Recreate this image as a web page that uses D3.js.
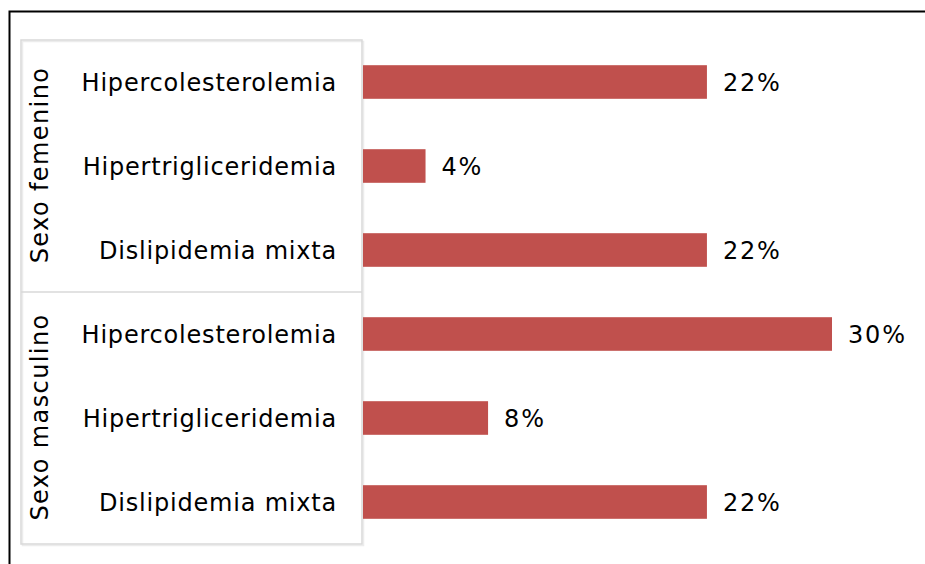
<!DOCTYPE html>
<html>
<head>
<meta charset="utf-8">
<script src="https://cdn.jsdelivr.net/npm/d3@7"></script>
<style>
  body { margin: 0; background: #fff; }
  svg { display: block; font-family: "DejaVu Sans", Verdana, sans-serif; }
</style>
</head>
<body>
<div id="chart"></div>
<script>
const width = 925;
const height = 564;

const groups = ["Sexo femenino", "Sexo masculino"];
const categories = ["Hipercolesterolemia", "Hipertrigliceridemia", "Dislipidemia mixta"];
const femenino = [22, 4, 22];
const masculino = [30, 8, 22];

const rows = [];
groups.forEach((g, gi) => {
    const vals = gi === 0 ? femenino : masculino;
    categories.forEach((c, ci) => rows.push({ group: g, cat: c, value: vals[ci], key: g + "|" + c }));
});

const boxLeft = 21, boxRight = 362, boxTop = 40, boxBottom = 544;

const svg = d3.select("#chart").append("svg")
    .attr("width", width)
    .attr("height", height);

// outer frame
svg.append("rect")
    .attr("x", 9.5).attr("y", 11.5)
    .attr("width", 930).attr("height", 600)
    .attr("fill", "none")
    .attr("stroke", "#000")
    .attr("stroke-width", 2);

const x = d3.scaleLinear().domain([0, 30]).range([boxRight + 1, 832]);
const y = d3.scaleBand().domain(rows.map(d => d.key)).range([boxTop, boxBottom]).paddingInner(0.6).paddingOuter(0.3);

// category box (light shadow + border)
svg.append("rect")
    .attr("x", boxLeft + 1.5).attr("y", boxTop + 1.5)
    .attr("width", boxRight - boxLeft).attr("height", boxBottom - boxTop)
    .attr("fill", "none")
    .attr("stroke", "#ececec")
    .attr("stroke-width", 1.5);
svg.append("rect")
    .attr("x", boxLeft).attr("y", boxTop)
    .attr("width", boxRight - boxLeft).attr("height", boxBottom - boxTop)
    .attr("fill", "none")
    .attr("stroke", "#d9d9d9")
    .attr("stroke-width", 1.5);

const groupY = d3.scaleBand().domain(groups).range([boxTop, boxBottom]);
svg.append("line")
    .attr("x1", boxLeft).attr("x2", boxRight)
    .attr("y1", groupY(groups[1])).attr("y2", groupY(groups[1]))
    .attr("stroke", "#d9d9d9")
    .attr("stroke-width", 1.5);

// bars
svg.selectAll("rect.bar")
    .data(rows)
    .enter()
    .append("rect")
    .attr("class", "bar")
    .attr("x", x(0))
    .attr("y", d => y(d.key))
    .attr("width", d => x(d.value) - x(0))
    .attr("height", y.bandwidth())
    .attr("fill", "#c0504d");

// value labels
svg.selectAll("text.val")
    .data(rows)
    .enter()
    .append("text")
    .attr("class", "val")
    .attr("x", d => x(d.value) + 16)
    .attr("y", d => y(d.key) + y.bandwidth() / 2 + 1)
    .attr("dy", "0.35em")
    .attr("font-size", "24px")
    .attr("letter-spacing", "1.8px")
    .attr("fill", "#000")
    .text(d => d.value + "%");

// category labels
svg.selectAll("text.cat")
    .data(rows)
    .enter()
    .append("text")
    .attr("class", "cat")
    .attr("x", 337)
    .attr("y", d => y(d.key) + y.bandwidth() / 2 + 1)
    .attr("dy", "0.35em")
    .attr("text-anchor", "end")
    .attr("font-size", "24px")
    .attr("letter-spacing", "0.8px")
    .attr("fill", "#000")
    .text(d => d.cat);

// group labels
svg.selectAll("text.grp")
    .data(groups)
    .enter()
    .append("text")
    .attr("class", "grp")
    .attr("transform", d => `translate(40, ${groupY(d) + groupY.bandwidth() / 2 - 1}) rotate(-90)`)
    .attr("dy", "0.35em")
    .attr("text-anchor", "middle")
    .attr("font-size", "24px")
    .attr("letter-spacing", "1.4px")
    .attr("fill", "#000")
    .text(d => d);
</script>
</body>
</html>
